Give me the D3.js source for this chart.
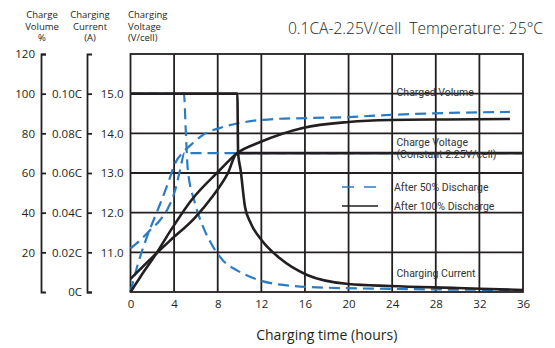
<!DOCTYPE html>
<html>
<head>
<meta charset="utf-8">
<script src="https://cdn.jsdelivr.net/npm/d3@7"></script>
<style>
  body { margin: 0; background: #fff; }
  svg text { font-family: "Open Sans", "DejaVu Sans", sans-serif; fill: #231f20; }
  .note { font-family: "Liberation Sans Narrow", "Roboto", sans-serif; font-size: 10.5px; fill: #333; }
</style>
</head>
<body>
<div id="chart"></div>
<script>
// tick values
const hourTicks = [0, 4, 8, 12, 16, 20, 24, 28, 32, 36];
const volumeTicks = [20, 40, 60, 80, 100, 120];
const currentTicks = [0, 0.02, 0.04, 0.06, 0.08, 0.10];
const voltageTicks = [11, 12, 13, 14, 15];

// after 100% discharge  [hours, value]
const volume100 = [[0, 0], [0.9, 7.6], [2.4, 19.7], [3.6, 30.3], [5.6, 46.4], [8.2, 61.5], [9.8, 70.1],
  [11.9, 75.6], [15.8, 82.7], [20, 85.7], [23.8, 86.7], [29, 87], [34.8, 87.2]];
const voltage100 = [[0, 10.33], [2.4, 10.98], [3.6, 11.29], [5.9, 11.87], [7.5, 12.4], [8.9, 12.98], [9.8, 13.5], [36, 13.5]];
const current100 = [[0, 0.1], [9.8, 0.1], [9.87, 0.07], [10.1, 0.0615], [10.5, 0.043], [11, 0.035], [12.05, 0.026],
  [13.7, 0.017], [16.2, 0.0086], [20, 0.004], [23.8, 0.003], [30, 0.002], [36, 0.001]];

// after 50% discharge
const volume50 = [[0, 0], [0.6, 12.6], [1.5, 27.7], [2.5, 41.4], [3.45, 55], [4.1, 65], [4.85, 70.6], [5.7, 75],
  [6.65, 79.2], [8.5, 83.2], [10.5, 85.7], [13.1, 87.2], [16.2, 87.7], [19.9, 88.2], [23.8, 89.3], [29.3, 90.3], [34.8, 90.8]];
const voltage50 = [[0, 11.1], [0.9, 11.31], [1.8, 11.56], [2.7, 11.81], [3.45, 12.12], [4.1, 12.57], [4.55, 13.08], [4.95, 13.5], [36, 13.5]];
const current50 = [[0, 0.1], [4.9, 0.1], [5.08, 0.08], [5.25, 0.062], [5.9, 0.045], [6.65, 0.033], [7.55, 0.023], [8.5, 0.0158],
  [9.8, 0.0108], [10.5, 0.0088], [11.9, 0.0058], [14.6, 0.0032], [19.2, 0.002], [36, 0.001]];

const black = "#231f20";
const blue = "#2b7cc3";

const width = 555, height = 348;
const plot = { left: 130.5, right: 523, top: 54, bottom: 292 };

const svg = d3.select("#chart").append("svg")
  .attr("width", width)
  .attr("height", height);

const x = d3.scaleLinear().domain([0, 36]).range([plot.left, plot.right]);
const yVol = d3.scaleLinear().domain([0, 120]).range([plot.bottom, plot.top]);
const yCur = d3.scaleLinear().domain([0, 0.12]).range([plot.bottom, plot.top]);
const yVolt = d3.scaleLinear().domain([10, 16]).range([plot.bottom, plot.top]);

// grid
const grid = svg.append("g").attr("stroke", black).attr("stroke-width", 1.8);
grid.selectAll(".vx").data(hourTicks.slice(1, -1)).join("line")
  .attr("x1", d => x(d)).attr("x2", d => x(d))
  .attr("y1", plot.top).attr("y2", plot.bottom);
grid.selectAll(".hy").data(voltageTicks).join("line")
  .attr("x1", plot.left).attr("x2", plot.right)
  .attr("y1", d => yVolt(d)).attr("y2", d => yVolt(d));
svg.append("rect")
  .attr("x", plot.left).attr("y", plot.top)
  .attr("width", plot.right - plot.left).attr("height", plot.bottom - plot.top)
  .attr("fill", "none").attr("stroke", black).attr("stroke-width", 1.8);

// left axes
const volAxis = svg.append("g")
  .attr("transform", "translate(41,0)")
  .call(d3.axisLeft(yVol).tickValues(volumeTicks).tickSize(-5).tickPadding(6));
const curAxis = svg.append("g")
  .attr("transform", "translate(87,0)")
  .call(d3.axisLeft(yCur).tickValues(currentTicks).tickSize(-5).tickPadding(5)
    .tickFormat(d => d === 0 ? "0C" : d3.format(".2f")(d) + "C"));
[volAxis, curAxis].forEach(g => {
  g.select(".domain").attr("stroke", black).attr("stroke-width", 1.8);
  g.selectAll(".tick line").attr("stroke", black).attr("stroke-width", 1.8);
  g.selectAll("text").attr("font-size", 11.5).attr("fill", "#333");
});
const voltAxis = svg.append("g")
  .attr("transform", `translate(${plot.left},0)`)
  .call(d3.axisLeft(yVolt).tickValues(voltageTicks).tickSize(0).tickPadding(7).tickFormat(d3.format(".1f")));
voltAxis.select(".domain").remove();
voltAxis.selectAll("text").attr("font-size", 11.5).attr("fill", "#333");

const xAxis = svg.append("g")
  .attr("transform", `translate(0,${plot.bottom})`)
  .call(d3.axisBottom(x).tickValues(hourTicks).tickSize(0).tickPadding(8));
xAxis.select(".domain").remove();
xAxis.selectAll("text").attr("font-size", 11.5).attr("fill", "#333");

// axis titles
const titles = [
  { x: 42, anchor: "middle", lines: ["Charge", "Volume", "%"] },
  { x: 90, anchor: "middle", lines: ["Charging", "Current", "(A)"] },
  { x: 128, anchor: "start", lines: ["Charging", "Voltage", "(V/cell)"] }
];
titles.forEach(t => {
  svg.append("g").selectAll("text").data(t.lines).join("text")
    .attr("x", t.x).attr("y", (d, i) => 18 + i * 11.7)
    .attr("text-anchor", t.anchor)
    .attr("font-size", 9.5).attr("fill", "#444")
    .text(d => d);
});

svg.append("text")
  .attr("x", 543).attr("y", 34)
  .attr("text-anchor", "end")
  .attr("font-size", 15.6).attr("font-weight", 300)
  .attr("xml:space", "preserve")
  .text("0.1CA-2.25V/cell  Temperature: 25\u00b0C");

svg.append("text")
  .attr("x", (plot.left + plot.right) / 2).attr("y", 340)
  .attr("text-anchor", "middle")
  .attr("font-size", 14)
  .text("Charging time (hours)");

// curves
const lineOf = y => d3.line().x(d => x(d[0])).y(d => y(d[1])).curve(d3.curveMonotoneX);

const series = [
  { data: voltage50, y: yVolt, dashed: true },
  { data: volume50, y: yVol, dashed: true },
  { data: current50, y: yCur, dashed: true },
  { data: voltage100, y: yVolt, dashed: false },
  { data: volume100, y: yVol, dashed: false },
  { data: current100, y: yCur, dashed: false }
];
svg.append("g").selectAll("path").data(series).join("path")
  .attr("fill", "none")
  .attr("stroke", d => d.dashed ? blue : black)
  .attr("stroke-width", d => d.dashed ? 2.2 : 2.6)
  .attr("stroke-dasharray", d => d.dashed ? "11,6" : null)
  .attr("d", d => lineOf(d.y)(d.data));

// notes
const notes = [
  { h: 24.4, y: yVol(100.5), text: "Charged Volume" },
  { h: 24.4, y: yVolt(13.78), text: "Charge Voltage" },
  { h: 24.4, y: yVolt(13.48), text: "(Constant 2.25V/cell)" },
  { h: 24.4, y: yCur(0.0092), text: "Charging Current" }
];
svg.append("g").selectAll("text").data(notes).join("text")
  .attr("class", "note")
  .attr("x", d => x(d.h)).attr("y", d => d.y)
  .attr("dy", "0.35em")
  .text(d => d.text);

// legend
const legend = [
  { text: "After 50% Discharge", color: blue, dash: "12,10", y: 187 },
  { text: "After 100% Discharge", color: black, dash: null, y: 206 }
];
const lg = svg.append("g").selectAll("g").data(legend).join("g")
  .attr("transform", d => `translate(342,${d.y})`);
lg.append("line")
  .attr("x1", 0).attr("x2", 36)
  .attr("stroke", d => d.color).attr("stroke-width", 1.3)
  .attr("stroke-dasharray", d => d.dash);
lg.append("text")
  .attr("class", "note")
  .attr("x", 52).attr("dy", "0.35em")
  .text(d => d.text);
</script>
</body>
</html>
